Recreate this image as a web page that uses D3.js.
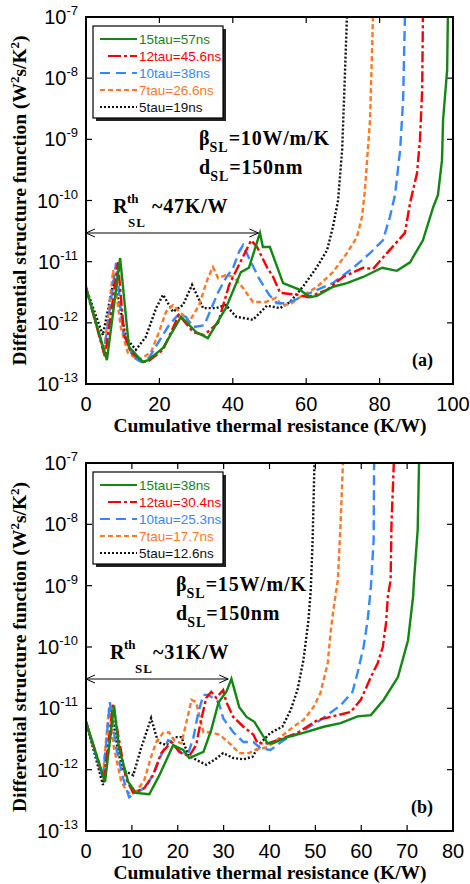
<!DOCTYPE html>
<html>
<head>
<meta charset="utf-8">
<script src="https://cdn.jsdelivr.net/npm/d3@7"></script>
<style>
  body { margin: 0; background: #fff; }
  svg { display: block; }
</style>
</head>
<body>
<div id="chart"></div>
<script>
// values: [thermal resistance K/W, log10 of structure function]
// panel (a) beta = 10 W/m/K
const a15 = [[0,-11.43],[5.7,-12.61],[9.3,-10.94],[11.7,-12.39],[15.5,-12.64],[16.9,-12.61],[21,-12.41],[25.9,-11.9],[30,-12.15],[33.2,-12.25],[38.1,-11.76],[42.2,-11.17],[44.4,-11.1],[47.4,-10.53],[48.2,-10.76],[50.1,-10.76],[53.7,-11.35],[58.3,-11.46],[61,-11.58],[62.9,-11.56],[67.3,-11.41],[71.1,-11.35],[75.5,-11.25],[80.7,-11.1],[84.7,-11.15],[88.3,-11.01],[91.8,-10.65],[94.6,-10.11],[95.9,-9.91],[97,-9.34],[97.3,-8.68],[98.4,-7.87],[98.6,-7]]
const a12 = [[0,-11.43],[5.2,-12.56],[8.7,-11.01],[10.4,-12.2],[12.3,-12.49],[15.8,-12.64],[17.2,-12.62],[21,-12.44],[25.3,-11.87],[29.2,-12.15],[32.2,-12.2],[36,-12],[39,-11.38],[41.7,-11.05],[45,-10.65],[46.6,-10.76],[49.3,-11.09],[51,-11.25],[52.9,-11.51],[57.5,-11.54],[60.5,-11.58],[65.7,-11.46],[70,-11.25],[75.5,-11.1],[78.2,-11.12],[82,-10.86],[86.9,-10.53],[88.3,-10.04],[90.2,-9.55],[91,-9.01],[91.6,-8.19],[91.8,-7]]
const a10 = [[0,-11.43],[4.9,-12.48],[8.2,-11.02],[10.1,-12.15],[12.8,-12.56],[15,-12.64],[17.2,-12.57],[19.6,-12.33],[22.6,-12.04],[25.1,-11.87],[27.2,-11.9],[29.2,-12.07],[32.2,-12.04],[36,-11.5],[38.1,-11.27],[40.1,-11.1],[41.7,-10.84],[42.8,-10.73],[44.4,-10.94],[47.1,-11.27],[49.9,-11.54],[52,-11.68],[54.8,-11.68],[57.5,-11.61],[63,-11.46],[67.3,-11.35],[72.8,-11.1],[77.4,-10.86],[80.9,-10.65],[82.8,-10.27],[84.2,-9.91],[85.6,-9.17],[86.4,-8.36],[86.9,-7]]
const a7 = [[0,-11.4],[4.9,-12.49],[7.4,-11.14],[9.5,-12.08],[11.4,-12.49],[14.4,-12.61],[17.7,-12.48],[19.9,-12.15],[21.8,-11.82],[23.7,-11.71],[26.4,-11.87],[28.1,-11.99],[30.8,-11.71],[33.2,-11.27],[34.6,-11.09],[36,-11.27],[38.1,-11.22],[40.3,-11.25],[42.8,-11.43],[45.5,-11.66],[49,-11.66],[51.8,-11.59],[53.4,-11.72],[56.1,-11.68],[58.3,-11.58],[63,-11.41],[67.3,-11.17],[71.1,-10.86],[73.8,-10.6],[75.2,-10.27],[76,-9.83],[76.8,-9.17],[77.4,-8.68],[78.2,-7]]
const a5 = [[0,-11.43],[4.6,-12.2],[7.6,-11.3],[9,-11.66],[10.9,-12.25],[13.6,-12.44],[16.3,-12.23],[19.1,-11.76],[21,-11.54],[23.7,-11.82],[26.4,-11.71],[28.9,-11.38],[31.9,-11.76],[35.4,-11.76],[38.1,-11.71],[40.9,-11.9],[45.5,-11.95],[49.3,-11.72],[52.9,-11.76],[55.6,-11.66],[59.1,-11.41],[62.9,-11.09],[65.7,-10.81],[67.3,-10.43],[68.7,-9.99],[69.8,-9.17],[70.3,-8.36],[71.1,-7]]

// panel (b) beta = 15 W/m/K
const b15 = [[0,-11.22],[4.15,-12.2],[6.1,-10.95],[7.2,-11.65],[9.2,-12.2],[10.9,-12.38],[13.8,-12.4],[16,-12.09],[19,-11.6],[21.2,-11.68],[22.5,-11.81],[25.6,-11.71],[27.3,-11.35],[28.9,-10.9],[30.6,-10.73],[31.7,-10.52],[33.4,-10.98],[35,-11.14],[36.7,-11.22],[39.6,-11.57],[40.7,-11.57],[43.9,-11.47],[47.4,-11.4],[51.8,-11.3],[55.5,-11.24],[59.2,-11.13],[62.1,-11.11],[64.9,-10.86],[68,-10.49],[70.2,-9.89],[71.3,-9.18],[71.5,-8.91],[72.3,-8.09],[72.6,-7]]
const b12 = [[0,-11.22],[3.9,-12.17],[5.9,-10.93],[7,-11.43],[8.7,-12.14],[10.3,-12.38],[12.7,-12.3],[14.6,-12.09],[16.4,-11.73],[18.6,-11.55],[20.3,-11.71],[22.5,-11.78],[24,-11.6],[25.1,-11.19],[26.2,-10.83],[27.3,-10.73],[28.4,-10.83],[29.9,-10.7],[30.6,-10.9],[32.1,-11.14],[34.3,-11.3],[36.5,-11.43],[37.4,-11.57],[39.6,-11.57],[41.7,-11.52],[46.1,-11.4],[50.5,-11.19],[54.9,-11.11],[57.7,-11.06],[59.9,-10.86],[62.1,-10.49],[63.6,-10.26],[64.7,-10],[65.4,-9.61],[65.8,-9.18],[66.4,-8.91],[66.6,-7.98],[67.1,-7]]
const b10 = [[0,-11.22],[3.7,-12.14],[5.2,-10.9],[6.6,-11.65],[8.1,-12.14],[9.4,-12.45],[11.4,-12.36],[13.1,-12.28],[14.9,-12.04],[16.4,-11.76],[17.9,-11.52],[19,-11.57],[20.8,-11.73],[22.3,-11.73],[23.4,-11.48],[24.5,-11.06],[25.6,-10.78],[26.7,-10.78],[28.9,-10.9],[29.9,-11.16],[32.1,-11.39],[34.3,-11.55],[36.5,-11.55],[38,-11.65],[40.2,-11.68],[43.1,-11.52],[46.8,-11.39],[51.1,-11.19],[55.5,-10.95],[58.1,-10.73],[59.2,-10.42],[60.5,-10],[61.4,-9.56],[62.1,-9.02],[62.7,-8.26],[62.8,-7]]
const b7 = [[0,-11.22],[3.7,-12.09],[5,-11],[6.1,-11.65],[7.7,-12.2],[9.2,-12.38],[10.9,-12.36],[12.7,-12.17],[14.2,-11.79],[15.3,-11.55],[16.8,-11.4],[18.1,-11.39],[19.2,-11.52],[20.8,-11.57],[21.9,-11.22],[23,-10.86],[24,-10.9],[25.6,-11.39],[27.3,-11.39],[29.1,-11.43],[31.3,-11.57],[33.4,-11.73],[35.6,-11.73],[36.7,-11.68],[39.6,-11.63],[42.4,-11.47],[45.2,-11.3],[47.4,-11.19],[49.6,-10.98],[51.1,-10.75],[52.7,-10.26],[53.3,-9.77],[54,-9.35],[54.9,-8.91],[55.5,-7.98],[56,-7]]
const b5 = [[0,-11.22],[3.7,-12.25],[5.9,-11.19],[7,-11.71],[8.1,-12.01],[10.3,-12.09],[12,-11.65],[14.2,-11.16],[15.7,-11.55],[17.5,-11.6],[19.2,-11.47],[20.8,-11.47],[22.3,-11.76],[24,-11.84],[26.2,-11.92],[28,-11.84],[29.9,-11.73],[32.1,-11.81],[34.3,-11.83],[36.3,-11.79],[38,-11.57],[40.2,-11.4],[42.8,-11.3],[44.6,-11.03],[46.1,-10.7],[47.4,-10.21],[48.5,-9.56],[49,-9.07],[49.4,-8.26],[49.8,-7]]

const seriesNames = ['15tau', '12tau', '10tau', '7tau', '5tau']
const timesA = ['57ns', '45.6ns', '38ns', '26.6ns', '19ns']
const timesB = ['38ns', '30.4ns', '25.3ns', '17.7ns', '12.6ns']
const xTicksA = [0, 20, 40, 60, 80, 100]
const xTicksB = [0, 10, 20, 30, 40, 50, 60, 70, 80]
const yTicks = [-13, -12, -11, -10, -9, -8, -7]

const colors = ['#118811', '#ff0000', '#3388ff', '#ff7722', '#111111']
const dashes = [null, '11,3,3,3', '10,5', '5,3', '2,2']

const svg = d3.select('#chart').append('svg')
  .attr('width', 470)
  .attr('height', 884)

const serif = 'Liberation Serif, Times New Roman, serif'
const sans = 'Liberation Sans, Arial, sans-serif'

function drawPanel(p) {
  const x = d3.scaleLinear().domain([0, p.xMax]).range([86, 453])
  const y = d3.scaleLog().domain([1e-13, 1e-7]).range([p.bottom, p.top])
  const g = svg.append('g')

  const clipId = 'clip' + p.id
  svg.append('clipPath').attr('id', clipId)
    .append('rect').attr('x', 86).attr('y', p.top).attr('width', 367).attr('height', p.bottom - p.top)

  // ticks inward on all sides
  p.xTicks.forEach(function(t) {
    g.append('line').attr('x1', x(t)).attr('x2', x(t)).attr('y1', p.bottom).attr('y2', p.bottom - 6)
      .attr('stroke', '#000').attr('stroke-width', 1.2)
    g.append('line').attr('x1', x(t)).attr('x2', x(t)).attr('y1', p.top).attr('y2', p.top + 6)
      .attr('stroke', '#000').attr('stroke-width', 1.2)
    g.append('text').attr('x', x(t)).attr('y', p.bottom + 27)
      .attr('text-anchor', 'middle').attr('font-family', sans).attr('font-size', '20px')
      .text(t)
  })
  yTicks.forEach(function(e) {
    const yy = y(Math.pow(10, e))
    g.append('line').attr('x1', 86).attr('x2', 92).attr('y1', yy).attr('y2', yy)
      .attr('stroke', '#000').attr('stroke-width', 1.2)
    g.append('line').attr('x1', 453).attr('x2', 447).attr('y1', yy).attr('y2', yy)
      .attr('stroke', '#000').attr('stroke-width', 1.2)
    const t = g.append('text').attr('x', 78).attr('y', yy + 7)
      .attr('text-anchor', 'end').attr('font-family', sans).attr('font-size', '20px')
    t.append('tspan').text('10')
    t.append('tspan').attr('dy', -9).attr('font-size', '13px').text(e)
  })

  // curves
  const line = d3.line()
    .x(function(d) { return x(d[0]) })
    .y(function(d) { return y(Math.pow(10, d[1])) })
  p.series.slice().reverse().forEach(function(s, j) {
    const i = p.series.length - 1 - j
    g.append('path').datum(s)
      .attr('d', line)
      .attr('fill', 'none')
      .attr('stroke', colors[i])
      .attr('stroke-width', 2.4)
      .attr('stroke-dasharray', dashes[i])
      .attr('clip-path', 'url(#' + clipId + ')')
  })

  // frame
  g.append('rect').attr('x', 86).attr('y', p.top).attr('width', 367).attr('height', p.bottom - p.top)
    .attr('fill', 'none').attr('stroke', '#000').attr('stroke-width', 2)

  // legend
  const lx = 93, ly = p.top + 9
  g.append('rect').attr('x', lx + 3).attr('y', ly + 3).attr('width', 130).attr('height', 92).attr('fill', '#222')
  g.append('rect').attr('x', lx).attr('y', ly).attr('width', 130).attr('height', 92)
    .attr('fill', '#fff').attr('stroke', '#000').attr('stroke-width', 1.2)
  seriesNames.forEach(function(n, i) {
    const yy = ly + 13 + i * 17
    g.append('line').attr('x1', i == 1 ? 108 : 100).attr('x2', 137).attr('y1', yy).attr('y2', yy)
      .attr('stroke', colors[i]).attr('stroke-width', 2)
      .attr('stroke-dasharray', i == 1 ? '13,3,3,3' : i == 2 ? '10,6' : dashes[i])
    g.append('text').attr('x', 139).attr('y', yy + 5)
      .attr('font-family', sans).attr('font-size', '13.5px').attr('fill', colors[i])
      .text(n + '=' + p.times[i])
  })

  // annotations
  function subText(xx, yy, main, sub, rest) {
    const t = g.append('text').attr('x', xx).attr('y', yy)
      .attr('font-family', serif).attr('font-weight', 'bold').attr('font-size', '20px')
    t.append('tspan').text(main)
    t.append('tspan').attr('dy', 7).attr('font-size', '14px').attr('letter-spacing', '1px').text(sub)
    t.append('tspan').attr('dy', -7).attr('letter-spacing', '0.8px').text(rest)
  }
  subText(p.bx, p.top + 128, 'β', 'SL', '=' + p.beta)
  subText(p.bx, p.top + 157, 'd', 'SL', '=150nm')

  const ry = p.top + 196
  const r = g.append('text').attr('y', ry)
    .attr('font-family', serif).attr('font-weight', 'bold').attr('font-size', '20px')
  r.append('tspan').attr('x', p.rx).text('R')
  r.append('tspan').attr('x', p.rx + 14).attr('y', ry - 10).attr('font-size', '13px').text('th')
  r.append('tspan').attr('x', p.rx + p.subOff).attr('y', ry + 14).attr('font-size', '13px').attr('letter-spacing', '1px').text('SL')
  r.append('tspan').attr('x', p.rx + p.restOff).attr('y', ry).attr('letter-spacing', '0.8px').text('~' + p.rth + 'K/W')

  const ay = p.top + 216
  const ax1 = x(0), ax2 = x(p.rth)
  g.append('line').attr('x1', ax1).attr('x2', ax2).attr('y1', ay).attr('y2', ay)
    .attr('stroke', '#000').attr('stroke-width', 1)
  g.append('path').attr('d', 'M' + (ax1 + 9) + ',' + (ay - 4) + 'L' + ax1 + ',' + ay + 'L' + (ax1 + 9) + ',' + (ay + 4))
    .attr('fill', 'none').attr('stroke', '#000').attr('stroke-width', 1)
  g.append('path').attr('d', 'M' + (ax2 - 9) + ',' + (ay - 4) + 'L' + ax2 + ',' + ay + 'L' + (ax2 - 9) + ',' + (ay + 4))
    .attr('fill', 'none').attr('stroke', '#000').attr('stroke-width', 1)

  g.append('text').attr('x', 433).attr('y', p.bottom - 18).attr('text-anchor', 'end')
    .attr('font-family', serif).attr('font-weight', 'bold').attr('font-size', '18px')
    .text(p.label)

  // axis titles
  const yt = g.append('text')
    .attr('transform', 'translate(26,' + ((p.top + p.bottom) / 2) + ') rotate(-90)')
    .attr('text-anchor', 'middle').attr('font-family', serif).attr('font-weight', 'bold').attr('font-size', '19.5px')
  yt.append('tspan').text('Differential structure function  (W')
  yt.append('tspan').attr('dy', -7).attr('font-size', '13px').text('2')
  yt.append('tspan').attr('dy', 7).text('s/K')
  yt.append('tspan').attr('dy', -7).attr('font-size', '13px').text('2')
  yt.append('tspan').attr('dy', 7).text(')')

  g.append('text').attr('x', 270).attr('y', p.bottom + 48)
    .attr('text-anchor', 'middle').attr('font-family', serif).attr('font-weight', 'bold').attr('font-size', '19.5px')
    .text('Cumulative thermal resistance (K/W)')
}

drawPanel({ id: 'a', top: 17, bottom: 384, xMax: 100, xTicks: xTicksA, series: [a15, a12, a10, a7, a5],
  times: timesA, beta: '10W/m/K', bx: 199, rx: 113, subOff: 15, restOff: 39, rth: 47, label: '(a)' })
drawPanel({ id: 'b', top: 463, bottom: 831, xMax: 80, xTicks: xTicksB, series: [b15, b12, b10, b7, b5],
  times: timesB, beta: '15W/m/K', bx: 176, rx: 110, subOff: 25, restOff: 43, rth: 31, label: '(b)' })
</script>
</body>
</html>
